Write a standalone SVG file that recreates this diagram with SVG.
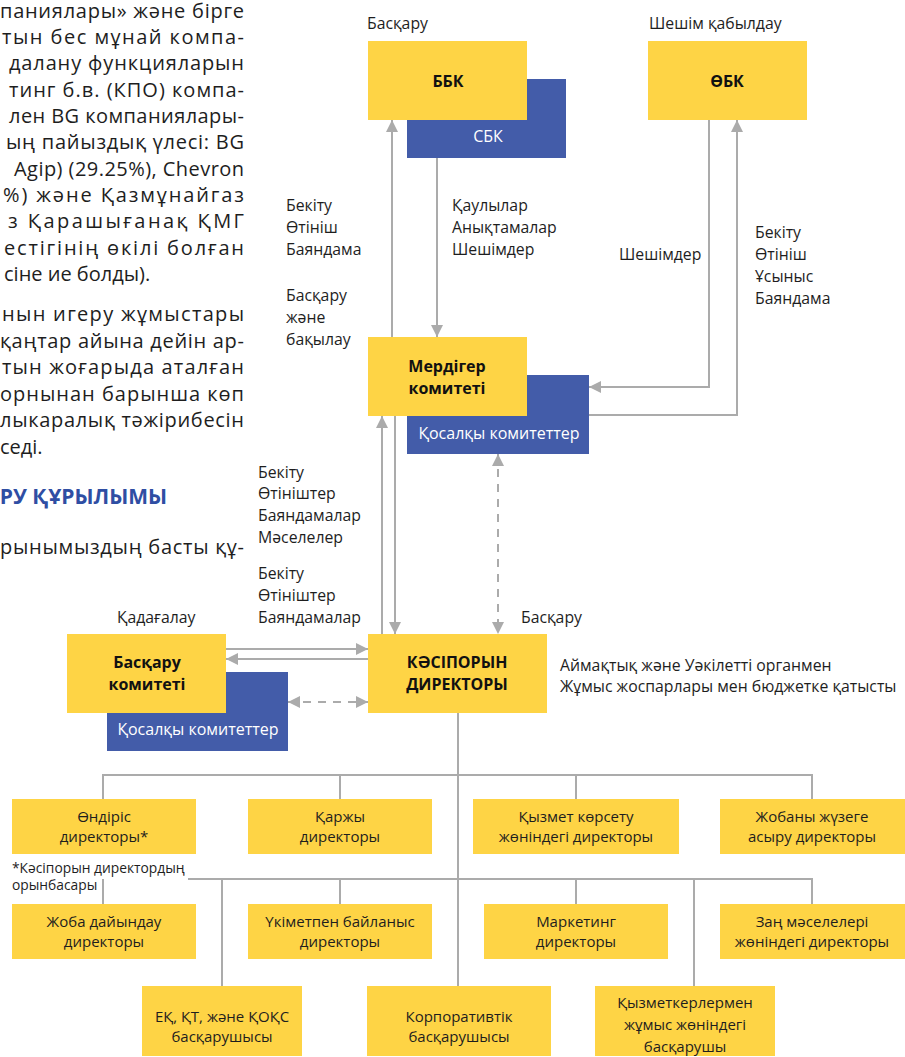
<svg xmlns="http://www.w3.org/2000/svg" width="905" height="1057" viewBox="0 0 905 1057">
<style>
.body{font-family:"Open Sans","Noto Sans",sans-serif;font-size:20px;fill:#1e1e1e}
.head{font-family:"Open Sans","Noto Sans",sans-serif;font-size:21px;font-weight:bold;fill:#2f4ea3}
.lbl{font-family:"Open Sans","Noto Sans",sans-serif;font-size:15.8px;fill:#1e1e1e}
.fn{font-family:"Open Sans","Noto Sans",sans-serif;font-size:13.8px;fill:#1e1e1e}
.bt{font-family:"Open Sans","Noto Sans",sans-serif;font-size:15px;fill:#1e1e1e;text-anchor:middle}
.bb{font-family:"Open Sans","Noto Sans",sans-serif;font-size:16px;font-weight:bold;fill:#111;text-anchor:middle}
.wt{font-family:"Open Sans","Noto Sans",sans-serif;font-size:16px;fill:#fff;text-anchor:middle}
.y{fill:#fed445}
.b{fill:#435ca9}
.c{stroke:#ababab;stroke-width:2;fill:none}
.d{stroke-dasharray:8 7}
</style>
<defs>
<marker id="ah" viewBox="0 0 12 12" markerWidth="12" markerHeight="12" markerUnits="userSpaceOnUse" refX="12" refY="6" orient="auto-start-reverse">
<path d="M0,0 L12,6 L0,12 z" fill="#ababab"/>
</marker>
</defs>

<g id="bodytext">
<text class="body" x="0" y="18" textLength="244" lengthAdjust="spacing">паниялары» және бірге</text>
<text class="body" x="2" y="44" textLength="242" lengthAdjust="spacing">тын бес мұнай компа-</text>
<text class="body" x="9" y="70" textLength="235" lengthAdjust="spacing">далану функцияларын</text>
<text class="body" x="9" y="97" textLength="235" lengthAdjust="spacing">тинг б.в. (КПО) компа-</text>
<text class="body" x="9" y="123" textLength="235" lengthAdjust="spacing">лен BG компаниялары-</text>
<text class="body" x="6" y="149" textLength="238" lengthAdjust="spacing">ың пайыздық үлесі: BG</text>
<text class="body" x="14" y="176" textLength="230" lengthAdjust="spacing">Agip) (29.25%), Chevron</text>
<text class="body" x="3" y="202" textLength="241" lengthAdjust="spacing">%)  және Қазмұнайгаз</text>
<text class="body" x="8" y="228" textLength="236" lengthAdjust="spacing">з  Қарашығанақ  ҚМГ</text>
<text class="body" x="4" y="255" textLength="240" lengthAdjust="spacing">естігінің  өкілі  болған</text>
<text class="body" x="4" y="281">сіне ие болды).</text>
<text class="body" x="2" y="321" textLength="242" lengthAdjust="spacing">нын  игеру  жұмыстары</text>
<text class="body" x="0" y="348" textLength="244" lengthAdjust="spacing">қаңтар айына дейін ар-</text>
<text class="body" x="2" y="374" textLength="242" lengthAdjust="spacing">тын жоғарыда аталған</text>
<text class="body" x="0" y="401" textLength="244" lengthAdjust="spacing">орнынан барынша көп</text>
<text class="body" x="0" y="427" textLength="244" lengthAdjust="spacing">лыкаралық тәжірибесін</text>
<text class="body" x="0" y="454">седі.</text>
<text class="head" x="167" y="504" text-anchor="end">РУ ҚҰРЫЛЫМЫ</text>
<text class="body" x="0" y="554" textLength="244" lengthAdjust="spacing">рынымыздың басты құ-</text>
</g>

<g id="connectors">
<line class="c" x1="392" y1="337" x2="392" y2="120" marker-end="url(#ah)"/>
<line class="c" x1="437" y1="158" x2="437" y2="337" marker-end="url(#ah)"/>
<path class="c" d="M709,120 V387 H589" marker-end="url(#ah)"/>
<path class="c" d="M589,415 H737 V120" marker-end="url(#ah)"/>
<line class="c" x1="382" y1="634" x2="382" y2="416" marker-end="url(#ah)"/>
<line class="c" x1="395" y1="416" x2="395" y2="634" marker-end="url(#ah)"/>
<line class="c d" x1="498" y1="454" x2="498" y2="634" marker-start="url(#ah)" marker-end="url(#ah)"/>
<line class="c" x1="226" y1="649" x2="368" y2="649" marker-end="url(#ah)"/>
<line class="c" x1="368" y1="659" x2="226" y2="659" marker-end="url(#ah)"/>
<line class="c d" x1="288" y1="702" x2="368" y2="702" marker-start="url(#ah)" marker-end="url(#ah)"/>
<path class="c" d="M458,713 V986"/>
<path class="c" d="M103,799 V775 H812 V799 M340,775 V799 M576,775 V799"/>
<path class="c" d="M188,879 H812 V904 M103,879 V904 M222,879 V986 M340,879 V904 M576,879 V904 M694,879 V986"/>
</g>

<g id="labels">
<text class="lbl" x="367" y="29">Басқару</text>
<text class="lbl" x="649" y="29">Шешім қабылдау</text>
<text class="lbl"><tspan x="286" y="211">Бекіту</tspan><tspan x="286" y="233">Өтініш</tspan><tspan x="286" y="255">Баяндама</tspan></text>
<text class="lbl"><tspan x="286" y="301">Басқару</tspan><tspan x="286" y="323">және</tspan><tspan x="286" y="345">бақылау</tspan></text>
<text class="lbl"><tspan x="452" y="211">Қаулылар</tspan><tspan x="452" y="233">Анықтамалар</tspan><tspan x="452" y="255">Шешімдер</tspan></text>
<text class="lbl" x="619" y="260">Шешімдер</text>
<text class="lbl"><tspan x="755" y="238">Бекіту</tspan><tspan x="755" y="260">Өтініш</tspan><tspan x="755" y="282">Ұсыныс</tspan><tspan x="755" y="304">Баяндама</tspan></text>
<text class="lbl"><tspan x="258" y="478">Бекіту</tspan><tspan x="258" y="499">Өтініштер</tspan><tspan x="258" y="521">Баяндамалар</tspan><tspan x="258" y="543">Мәселелер</tspan></text>
<text class="lbl"><tspan x="258" y="579">Бекіту</tspan><tspan x="258" y="601">Өтініштер</tspan><tspan x="258" y="623">Баяндамалар</tspan></text>
<text class="lbl" x="117" y="623">Қадағалау</text>
<text class="lbl" x="521" y="623">Басқару</text>
<text class="lbl"><tspan x="560" y="671">Аймақтық және Уәкілетті органмен</tspan><tspan x="560" y="692">Жұмыс жоспарлары мен бюджетке қатысты</tspan></text>
</g>

<g id="sbk"><rect class="b" x="407" y="79" width="159" height="79"/><text class="wt" x="488" y="142">СБК</text></g>
<g id="bbk"><rect class="y" x="368" y="41" width="159" height="79"/><text class="bb" x="448" y="87">ББК</text></g>
<g id="obk"><rect class="y" x="648" y="41" width="159" height="79"/><text class="bb" x="727" y="87">ӨБК</text></g>

<g id="merdiger-sub"><rect class="b" x="407" y="375" width="182" height="79"/><text class="wt" x="499" y="439">Қосалқы комитеттер</text></g>
<g id="merdiger"><rect class="y" x="368" y="337" width="159" height="79"/><text class="bb"><tspan x="447" y="372">Мердігер</tspan><tspan x="447" y="394">комитеті</tspan></text></g>

<g id="baskaru-sub"><rect class="b" x="107" y="672" width="181" height="79"/><text class="wt" x="198" y="735">Қосалқы комитеттер</text></g>
<g id="baskaru"><rect class="y" x="67" y="634" width="159" height="79"/><text class="bb"><tspan x="147" y="668">Басқару</tspan><tspan x="147" y="690">комитеті</tspan></text></g>

<g id="kasiporyn"><rect class="y" x="368" y="634" width="179" height="79"/><text class="bb"><tspan x="457" y="668">КӘСІПОРЫН</tspan><tspan x="457" y="690">ДИРЕКТОРЫ</tspan></text></g>

<g id="ondiris"><rect class="y" x="12" y="799" width="184" height="55"/><text class="bt"><tspan x="104" y="822">Өндіріс</tspan><tspan x="104" y="842">директоры*</tspan></text></g>
<g id="karzhy"><rect class="y" x="248" y="799" width="184" height="55"/><text class="bt"><tspan x="340" y="822">Қаржы</tspan><tspan x="340" y="842">директоры</tspan></text></g>
<g id="kyzmet"><rect class="y" x="473" y="799" width="206" height="55"/><text class="bt"><tspan x="576" y="822">Қызмет көрсету</tspan><tspan x="576" y="842">жөніндегі директоры</tspan></text></g>
<g id="zhobany"><rect class="y" x="720" y="799" width="185" height="55"/><text class="bt"><tspan x="812" y="822">Жобаны жүзеге</tspan><tspan x="812" y="842">асыру директоры</tspan></text></g>

<g id="footnote"><text class="fn"><tspan x="12" y="873">*Кәсіпорын директордың</tspan><tspan x="12" y="890">орынбасары</tspan></text></g>

<g id="zhoba"><rect class="y" x="12" y="904" width="184" height="55"/><text class="bt"><tspan x="104" y="927">Жоба дайындау</tspan><tspan x="104" y="947">директоры</tspan></text></g>
<g id="ukimet"><rect class="y" x="248" y="904" width="184" height="55"/><text class="bt"><tspan x="340" y="927">Үкіметпен байланыс</tspan><tspan x="340" y="947">директоры</tspan></text></g>
<g id="marketing"><rect class="y" x="484" y="904" width="184" height="55"/><text class="bt"><tspan x="576" y="927">Маркетинг</tspan><tspan x="576" y="947">директоры</tspan></text></g>
<g id="zan"><rect class="y" x="720" y="904" width="185" height="55"/><text class="bt"><tspan x="812" y="927">Заң мәселелері</tspan><tspan x="812" y="947">жөніндегі директоры</tspan></text></g>

<g id="ek"><rect class="y" x="142" y="986" width="160" height="70"/><text class="bt"><tspan x="222" y="1022">ЕҚ, ҚТ, және ҚОҚС</tspan><tspan x="222" y="1042">басқарушысы</tspan></text></g>
<g id="korp"><rect class="y" x="367" y="986" width="184" height="70"/><text class="bt"><tspan x="459" y="1022">Корпоративтік</tspan><tspan x="459" y="1042">басқарушысы</tspan></text></g>
<g id="kyzmetker"><rect class="y" x="595" y="986" width="180" height="70"/><text class="bt"><tspan x="685" y="1008">Қызметкерлермен</tspan><tspan x="685" y="1030">жұмыс жөніндегі</tspan><tspan x="685" y="1052">басқарушы</tspan></text></g>
</svg>
